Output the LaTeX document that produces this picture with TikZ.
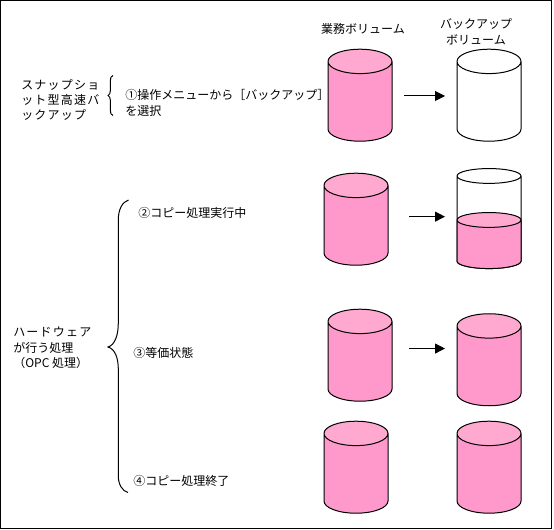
\documentclass[tikz,border=0pt]{standalone}
\usepackage{fontspec}
\setmainfont{Noto Sans CJK JP}
\usetikzlibrary{shapes.geometric,arrows.meta,positioning}
\definecolor{volbody}{HTML}{FF99CC}
\definecolor{voltop}{HTML}{FFA9D0}
\newcommand\wideline{\addfontfeature{LetterSpace=10}}
\tikzset{
  vol/.style   ={cylinder, shape border rotate=90, draw, line width=.75pt,
                 shape aspect=4.57, minimum width=48pt, minimum height=69pt,
                 inner sep=2pt, outer sep=0pt, cylinder uses custom fill,
                 cylinder body fill=volbody, cylinder end fill=voltop},
  emptyvol/.style={vol, cylinder body fill=white, cylinder end fill=white},
  lowvol/.style={vol, shape aspect=2.78},
  lbl/.style   ={font=\fontsize{9}{11.6}\selectfont, inner sep=0pt, align=left, anchor=west},
  hdr/.style   ={font=\fontsize{9}{11.6}\selectfont, inner sep=0pt, align=center},
  flow/.style  ={-{Triangle[length=7.5pt,width=7.5pt]}, line width=.75pt},
  brc/.style   ={line width=.75pt},
}
\begin{document}
\begin{tikzpicture}[x=.75pt,y=-.75pt]
\useasboundingbox (0,0) rectangle (554,530);
\node[draw, line width=.75pt, anchor=north west, inner sep=0pt, outer sep=0pt,
      minimum width=413.25pt, minimum height=396.25pt] (frame) at (.5,.5) {};

% ---- volumes ---------------------------------------------------------
\node[vol] (op1) at (360,104) {};
\node[emptyvol, right=48.75pt of op1] (bak1) {};
\node[vol, below=24pt of op1, xshift=-3pt] (op2) {};
\node[emptyvol, shape aspect=2.78, minimum height=75pt, right=51.75pt of op2, yshift=3pt] (bak2) {};
\node[lowvol, minimum height=42pt, anchor=south] (lvl) at (bak2.south) {};
\node[vol, below=33pt of op2, xshift=3pt] (op3) {};
\node[vol, right=48.75pt of op3, yshift=-3.4pt] (bak3) {};
\node[vol, below=15pt of op3, xshift=-3pt] (op4) {};
\node[vol, right=51.75pt of op4] (bak4) {};

\draw[flow, shorten <=9pt, shorten >=9pt] ([yshift=6pt]op1.east) -- ([yshift=6pt]bak1.west);
\draw[flow, shorten <=15.75pt, shorten >=9pt] ([yshift=8.5pt]op2.east) -- ([yshift=5.5pt]bak2.west);
\draw[flow, shorten <=12.75pt, shorten >=9pt] ([yshift=11.6pt]op3.east) -- ([yshift=15pt]bak3.west);

% ---- column headings -------------------------------------------------
\node[hdr] (hop) at (363,29) {業務ボリューム};
\node[hdr] (hbak) at (476,32) {バックアップ\\ボリューム};

% ---- steps -----------------------------------------------------------
\node[lbl] (snap) at (21,100) {\wideline スナップショ\\\wideline ット型高速バ\\\wideline ックアップ};
\node[lbl] (s1) at (125,103) {①操作メニューから［バックアップ］\\を選択};
\node[lbl] (s2) at (138,213) {②コピー処理実行中};
\node[lbl] (s3) at (133,353) {③等価状態};
\node[lbl] (s4) at (133,481) {④コピー処理終了};
\node[lbl] (hw) at (13,348) {\wideline ハードウェア\\が行う処理\\ （OPC 処理）};

% ---- braces ----------------------------------------------------------
\draw[brc] (113,75.5) .. controls (111,76) and (110.3,78) .. (110.3,81) -- (110.3,91)
      .. controls (110.3,93) and (109.5,95) .. (108,95.5)
      .. controls (109.5,96) and (110.3,98) .. (110.3,100) -- (110.3,110)
      .. controls (110.3,113) and (111,115) .. (113,115.5);
\draw[brc] (128.5,200) .. controls (122,202) and (118.3,210) .. (118.3,220) -- (118.3,323)
      .. controls (118.3,335) and (115,345) .. (108,347)
      .. controls (115,349) and (118.3,358) .. (118.3,369) -- (118.3,476)
      .. controls (118.3,484) and (122,491) .. (128,492.5);
\end{tikzpicture}
\end{document}
